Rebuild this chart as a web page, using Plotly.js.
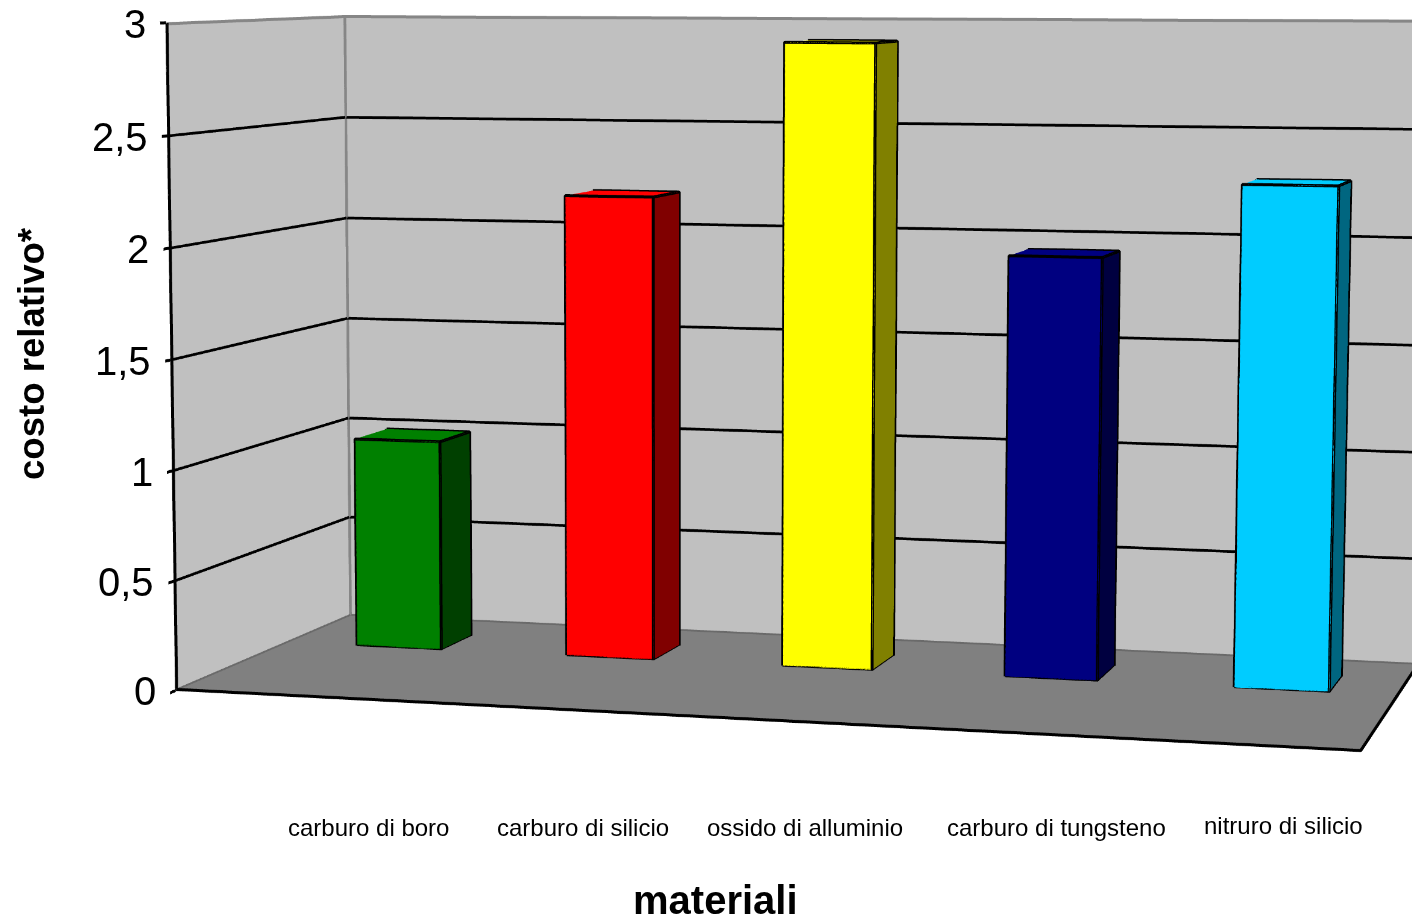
<!DOCTYPE html>
<html><head><meta charset="utf-8">
<script src="https://cdn.plot.ly/plotly-3.0.1.min.js"></script>
<style>
html,body{margin:0;padding:0;width:1412px;height:918px;overflow:hidden;background:#fff}
#wrap{position:absolute;left:0;top:0;width:1412px;height:918px;overflow:hidden}
#chart{position:absolute;left:-1058px;top:-1276px;width:3472px;height:3472px}
</style></head><body><div id="wrap"><div id="chart"></div></div>
<script>
var categories = ['carburo di boro','carburo di silicio','ossido di alluminio','carburo di tungsteno','nitruro di silicio'];
var costs = [1.0, 2.18, 2.9, 1.94, 2.28];
var frontColors = ['#008000','#ff0000','#ffff00','#000080','#00ccff'];
var sideColors = ['#004000','#800000','#808000','#000040','#006680'];
var tickVals = [0,0.5,1,1.5,2,2.5,3];
var tickText = ['0','0,5','1','1,5','2','2,5','3'];
var labelCentres = [368,583,805,1056,1283];
var labelRows = [827,827,827,827,825];

var VW=3472,VH=3472,OX=1058,OY=1276;
function px(x){return (x+OX)/VW;} function py(y){return 1-(y+OY)/VH;}
var BAR_L=0.332,BAR_STEP=0.994,BAR_W=0.403,Y0=0.62,Y1=0.815;
var XMAX=5,YMAX=1,ZMAX=3;
var traces=[];
function line(xs,ys,zs,color,width){traces.push({type:'scatter3d',mode:'lines',x:xs,y:ys,z:zs,line:{color:color,width:width},hoverinfo:'skip',showlegend:false,connectgaps:false});}

var e=0.002;
tickVals.forEach(function(v){
  if(v===0||v===ZMAX) return;
  line([0+e,0+e,XMAX],[0,YMAX-e,YMAX-e],[v,v,v],'#000000',4.5);
});
line([e,e],[YMAX-e,YMAX-e],[0,ZMAX],'#868686',5);
line([e,e,XMAX],[0,YMAX-e,YMAX-e],[ZMAX-0.004,ZMAX-0.004,ZMAX-0.004],'#868686',5);
line([e,e,XMAX],[0,YMAX-e,YMAX-e],[0.004,0.004,0.004],'#6a6a6a',3);
line([e,e],[e,e],[0,ZMAX],'#000000',5);
line([0,XMAX,XMAX],[e,e,YMAX],[0.004,0.004,0.004],'#000000',5);

categories.forEach(function(c,i){
  var x0=i*BAR_STEP+BAR_L,x1=x0+BAR_W,z=costs[i];
  var X=[x0,x1,x1,x0,x0,x1,x1,x0],Y=[Y0,Y0,Y1,Y1,Y0,Y0,Y1,Y1],Z=[0,0,0,0,z,z,z,z];
  traces.push({type:'mesh3d',x:X,y:Y,z:Z,
    i:[0,0,1,1,4,4],j:[1,5,2,6,5,6],k:[5,4,6,5,6,7],
    facecolor:[frontColors[i],frontColors[i],sideColors[i],sideColors[i],frontColors[i],frontColors[i]],
    flatshading:true,lighting:{ambient:1,diffuse:0,specular:0,fresnel:0,roughness:1},hoverinfo:'skip',showscale:false});
  line([x0,x1,x1,x0,x0,x0,null,x1,x1,x1,x1,x1,null,x0,x0+0,x1],[Y0,Y0,Y0,Y0,Y0,Y1,null,Y0,Y1,Y1,Y0,Y1,null,Y1,Y1,Y1],[0,0,z,z,0,z,null,0,0,z,z,z,null,z,z,z],'#000000',5);
});

var tickAnn=tickVals.map(function(v,i){return {x:0,y:0,z:v,text:tickText[i],showarrow:false,xanchor:'right',yanchor:'middle',xshift:-18,yshift:-1,font:{family:'Liberation Sans',size:40,color:'#000'}};});
var catAnn=categories.map(function(c,i){return {xref:'paper',yref:'paper',x:px(labelCentres[i]),y:py(labelRows[i]),text:c,showarrow:false,xanchor:'center',yanchor:'middle',font:{family:'Liberation Sans',size:24,color:'#000'}};});
catAnn.push({xref:'paper',yref:'paper',x:px(715),y:py(900),text:'<b>materiali</b>',showarrow:false,xanchor:'center',yanchor:'middle',font:{family:'Liberation Sans',size:40,color:'#000'}});
catAnn.push({xref:'paper',yref:'paper',x:px(31),y:py(354),text:'<b>costo relativo*</b>',textangle:-90,showarrow:false,xanchor:'center',yanchor:'middle',font:{family:'Liberation Sans',size:36.6,color:'#000'}});

function ax(range,bg,extra){return Object.assign({range:range,autorange:false,showgrid:false,zeroline:false,showline:false,showticklabels:false,ticks:'',title:{text:''},showspikes:false,showbackground:true,backgroundcolor:bg},extra||{});}
var layout={width:VW,height:VH,margin:{l:0,r:0,t:0,b:0},paper_bgcolor:'#fff',showlegend:false,annotations:catAnn,
 scene:{domain:{x:[0,1],y:[0,1]},aspectmode:'manual',aspectratio:{x:1.6135,y:0.6825,z:0.9097},
  xaxis:ax([0,XMAX],'#c0c0c0'),yaxis:ax([0,YMAX],'#c0c0c0'),zaxis:ax([0,ZMAX],'#808080',{tickmode:'array',tickvals:tickVals,ticks:'outside',ticklen:26,tickcolor:'#000',tickwidth:5}),
  camera:{eye:{x:1.41475,y:-5.59425,z:0.54515},center:{x:-0.16976,y:-0.06685,z:-0.14751},up:{x:0,y:0,z:1},projection:{type:'perspective'}},
  annotations:tickAnn}};
Plotly.newPlot('chart',traces,layout,{displayModeBar:false,responsive:false});
</script></body></html>
